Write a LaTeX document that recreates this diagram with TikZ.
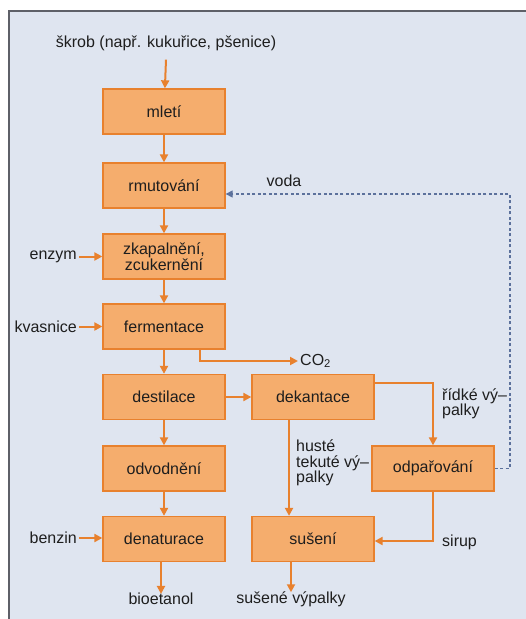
\documentclass[tikz,border=0pt]{standalone}
\usepackage{fontspec}
\setmainfont{Liberation Sans}
\usepackage{xcolor}
\usetikzlibrary{arrows.meta}
\definecolor{FlowOrange}{HTML}{E8812E}
\definecolor{FlowFill}{HTML}{F5AD6D}
\definecolor{FlowBack}{HTML}{DFE5F0}
\definecolor{FlowFrame}{HTML}{5E6068}
\definecolor{FlowDash}{HTML}{5C719C}
\definecolor{FlowText}{HTML}{1E1E1E}

\tikzset{
  procbox/.style={draw=FlowOrange,fill=FlowFill,line width=1.3pt,minimum width=122pt,minimum height=45pt,align=center,inner sep=2pt},
  flowarrow/.style={draw=FlowOrange,line width=2pt,-{Triangle[length=8pt,width=8pt]}},
  backarrow/.style={draw=FlowDash,line width=1.2pt,dash pattern=on 3pt off 2.5pt,-{Triangle[length=7pt,width=7pt]}},
  lbl/.style={text=FlowText,inner sep=2pt,align=left}
}

\begin{document}
\begin{tikzpicture}[x=1pt,y=-1pt,font=\fontsize{16}{17.5}\selectfont,text=FlowText]
\path[use as bounding box] (0,0) rectangle (526,619);
\fill[FlowBack] (9,11) rectangle (526,619);
\draw[FlowFrame,line width=1.5pt] (9,619) -- (9,11) -- (526,11);

% hlavni linie
\node[procbox] (mlet)  at (164,111.5) {mletí};
\node[procbox] (rmut)  at (164,185.5) {rmutování};
\node[procbox] (zkap)  at (164,256.5) {zkapalnění,\\[-2pt]zcukernění};
\node[procbox] (ferm)  at (164,326.5) {fermentace};
\node[procbox] (dest)  at (164,397) {destilace};
\node[procbox] (odvod) at (164,468.5) {odvodnění};
\node[procbox] (denat) at (164,539) {denaturace};
\node[procbox] (dek)   at (313,397) {dekantace};
\node[procbox] (sus)   at (313,539) {sušení};
\node[procbox] (odpar) at (433,468.5) {odpařování};

% vstupy a vystupy
\node[lbl] (skrob) at (166,43) {škrob (např. kukuřice, pšenice)};
\node[lbl,anchor=east] (enzym) at (79,256.5) {enzym};
\node[lbl,anchor=east] (kvas) at (79,326.5) {kvasnice};
\node[lbl,anchor=east] (benz) at (79,538) {benzin};
\node[lbl,anchor=west] (co2) at (298,361) {CO\textsubscript{2}};
\node[lbl] (voda) at (284,181) {voda};
\node[lbl,anchor=west] (ridke) at (440,404) {řídké vý–\\[-2pt]palky};
\node[lbl,anchor=west] (huste) at (294,463) {husté\\[-2pt]tekuté vý–\\[-2pt]palky};
\node[lbl,anchor=west] (sirup) at (440,542) {sirup};
\node[lbl] (bioet) at (161,599) {bioetanol};
\node[lbl] (susv) at (291,599) {sušené výpalky};
\coordinate (ret) at (510,194);

\draw[flowarrow] ([yshift=-7pt]skrob.south) -- (mlet);
\draw[flowarrow] (mlet) -- (rmut);
\draw[flowarrow] (rmut) -- (zkap);
\draw[flowarrow] (zkap) -- (ferm);
\draw[flowarrow] (ferm) -- (dest);
\draw[flowarrow] (dest) -- (odvod);
\draw[flowarrow] (odvod) -- (denat);
\draw[flowarrow] (enzym) -- (zkap);
\draw[flowarrow] (kvas) -- (ferm);
\draw[flowarrow] (benz.east) -- (benz.east -| denat.west);
\draw[flowarrow] (ferm.-33.5) |- (co2.west);
\draw[flowarrow] (dest.east) -- (dek.west);
\draw[flowarrow] (dek.13.6) -| (odpar.north);
\draw[flowarrow] (dek.224.4) -- (dek.224.4 |- sus.north);
\draw[flowarrow] (odpar.south) |- ([yshift=-2pt]sus.east);
\draw[flowarrow] (denat.south -| bioet.north) -- ([yshift=-3pt]bioet.north);
\draw[flowarrow] (sus.south -| susv.north) -- ([yshift=-3pt]susv.north);
\draw[backarrow] (odpar.east) -| (ret) -- (ret -| rmut.east);
\end{tikzpicture}
\end{document}
